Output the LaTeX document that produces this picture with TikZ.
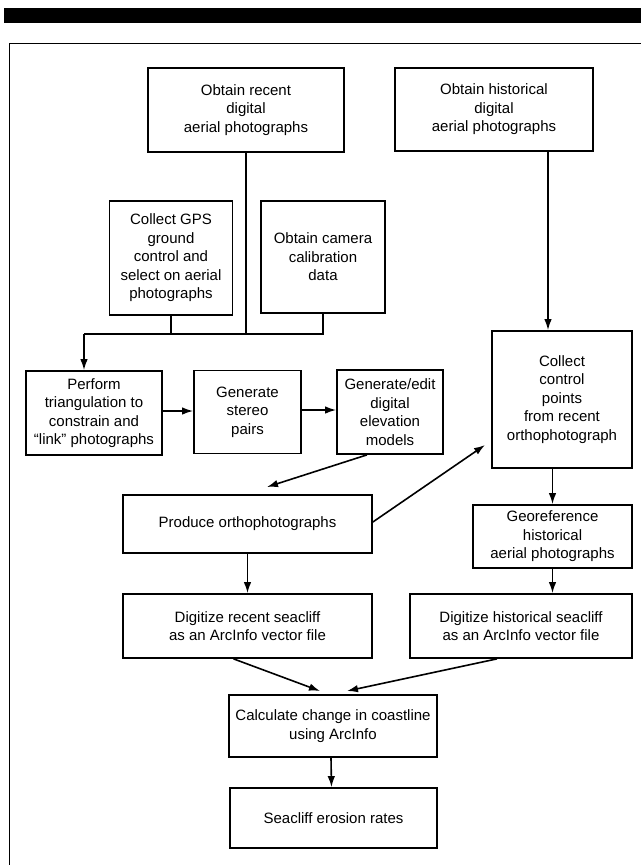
\documentclass[tikz,border=0pt]{standalone}
\usepackage{fontspec}
\setmainfont{Liberation Sans}
\usetikzlibrary{arrows.meta}
\begin{document}
\begin{tikzpicture}[x=1pt,y=-1pt,
  box/.style={draw,line width=1.7pt,rectangle,inner sep=0pt,align=center,
    font=\fontsize{15}{18.5}\selectfont},
  conn/.style={line width=1.6pt},
  arr/.style={line width=1.6pt,-{Latex[length=11pt,width=7.5pt]}}]
\useasboundingbox (0,0) rectangle (641,865);
% header bar and frame
\fill (4,8) rectangle (641,23);
\draw[line width=1pt] (9,865) -- (9,43) -- (641,43);
% boxes
\node[box,minimum width=196pt,minimum height=84pt] (recent) at (246,110) {Obtain recent\\digital\\aerial photographs};
\node[box,minimum width=198pt,minimum height=83pt] (hist) at (494,109.5) {Obtain historical\\digital\\aerial photographs};
\node[box,minimum width=123pt,minimum height=114pt] (gps) at (171,258) {Collect GPS\\ground\\control and\\select on aerial\\photographs};
\node[box,minimum width=124pt,minimum height=112pt] (cam) at (323,257) {Obtain camera\\calibration\\data};
\node[box,minimum width=136pt,minimum height=84pt] (perform) at (94,413) {Perform\\triangulation to\\constrain and\\“link” photographs};
\node[box,minimum width=107pt,minimum height=83pt] (stereo) at (247.5,412) {Generate\\stereo\\pairs};
\node[box,minimum width=106pt,minimum height=84pt] (edit) at (390,412) {Generate/edit\\digital\\elevation\\models};
\node[box,minimum width=140pt,minimum height=137pt] (ctrl) at (562,399.5) {Collect\\control\\points\\from recent\\orthophotograph};
\node[box,minimum width=249pt,minimum height=58pt] (produce) at (247.5,524) {Produce orthophotographs};
\node[box,minimum width=159pt,minimum height=63pt] (georef) at (552.5,536.5) {Georeference\\historical\\aerial photographs};
\node[box,minimum width=249pt,minimum height=64pt] (digrec) at (247.5,626) {Digitize recent seacliff\\as an ArcInfo vector file};
\node[box,minimum width=222pt,minimum height=64pt] (dighist) at (521,626) {Digitize historical seacliff\\as an ArcInfo vector file};
\node[box,minimum width=208pt,minimum height=62pt] (calc) at (333,726) {Calculate change in coastline\\using ArcInfo};
\node[box,minimum width=207pt,minimum height=60pt] (sea) at (333.5,818) {Seacliff erosion rates};
% junction coordinates
\coordinate (jl) at (84,334);
\coordinate (jc) at (323,334);
\coordinate (pe) at (267,487);
\coordinate (pc) at (485,445);
\coordinate (ch) at (347,691);
\coordinate (cr) at (320,691);
% connectors
\draw[conn] (cam.south) -- (jc) -- (jl);
\draw[conn] (gps.south) -- (gps.south |- jl);
\draw[conn] (recent.south) -- (recent.south |- jl);
\draw[arr] (jl) -- (jl |- perform.north);
\draw[arr] ([xshift=54pt]hist.south) -- ([xshift=54pt]hist.south |- ctrl.north);
\draw[arr] (perform.east |- 0,411) -- (stereo.west |- 0,411);
\draw[arr] (stereo.east |- 0,410) -- (edit.west |- 0,410);
\draw[arr] ([xshift=-23pt]edit.south) -- (pe);
\draw[arr] ([yshift=2pt]produce.east) -- (pc);
\draw[arr] (ctrl.south -| georef.north) -- (georef.north);
\draw[arr] (produce.south) -- (digrec.north);
\draw[arr] (georef.south) -- (georef.south |- dighist.north);
\draw[arr] ([xshift=-14pt]digrec.south) -- (cr);
\draw[arr] ([xshift=-24pt]dighist.south) -- (ch);
\draw[arr] ([xshift=-2pt]calc.south) -- ([xshift=-2pt]sea.north);
\end{tikzpicture}
\end{document}
